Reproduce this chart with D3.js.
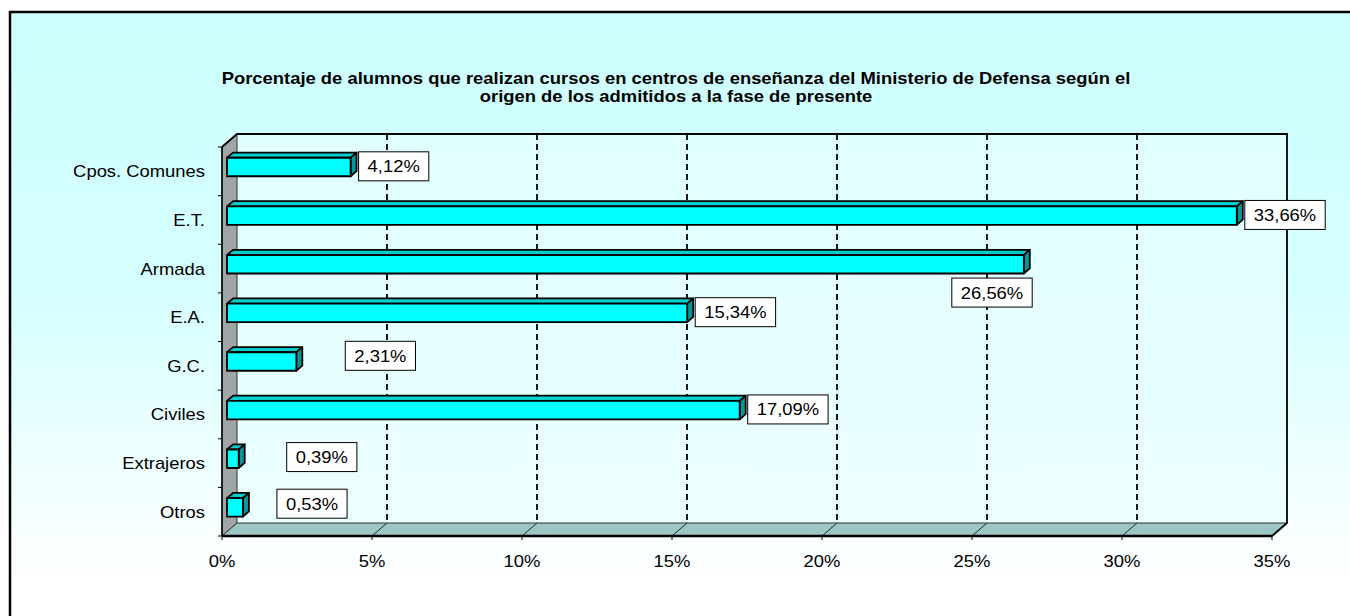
<!DOCTYPE html>
<html><head><meta charset="utf-8">
<script src="https://cdn.jsdelivr.net/npm/d3@7"></script>
<style>body{margin:0;background:#fff}svg{display:block}text{font-family:Arial,"Liberation Sans",sans-serif;fill:#000}</style>
</head><body>
<svg id="c" width="1350" height="616"></svg>
<script>
const titleLines = ["Porcentaje de alumnos que realizan cursos en centros de enseñanza del Ministerio de Defensa según el","origen de los admitidos a la fase de presente"];
const categories = ["Cpos. Comunes","E.T.","Armada","E.A.","G.C.","Civiles","Extrajeros","Otros"];
const values = [4.12,33.66,26.56,15.34,2.31,17.09,0.39,0.53];
const valueLabels = ["4,12%","33,66%","26,56%","15,34%","2,31%","17,09%","0,39%","0,53%"];
const xTicks = [0,5,10,15,20,25,30,35];
const xTickLabels = ["0%","5%","10%","15%","20%","25%","30%","35%"];
// label nudges (style/layout, not data)
const labelNudge = [[0,0],[0,0],[-80,29],[0,0],[41,-5],[0,0],[40,-1],[26,-3]];

const svg = d3.select("#c");
const SX = 1.15; // horizontal stretch of text
const L = 222, R = 1272, T = 147, B = 536, DX = 15, DY = -13;
const x = d3.scaleLinear().domain([0,35]).range([L,R]);
const y = d3.scaleBand().domain(categories).range([T,B]).paddingInner(0.62).paddingOuter(0.31);

const defs = svg.append("defs");
const g1 = defs.append("linearGradient").attr("id","bg").attr("x1",0).attr("y1",0).attr("x2",0).attr("y2",1);
g1.append("stop").attr("offset","0").attr("stop-color","#ccffff");
g1.append("stop").attr("offset","0.45").attr("stop-color","#d6ffff");
g1.append("stop").attr("offset","0.92").attr("stop-color","#ffffff");
const g2 = defs.append("linearGradient").attr("id","wall").attr("x1",0).attr("y1",0).attr("x2",0).attr("y2",1);
g2.append("stop").attr("offset","0").attr("stop-color","#e0ffff");
g2.append("stop").attr("offset","1").attr("stop-color","#ecffff");

svg.append("rect").attr("x",10).attr("y",12).attr("width",1360).attr("height",620)
  .attr("fill","url(#bg)").attr("stroke","#000").attr("stroke-width",2.5);

// title
titleLines.forEach((t,i)=>{
  svg.append("text").attr("transform",`translate(676,${84+i*18}) scale(${SX},1)`)
    .attr("text-anchor","middle").attr("font-weight","bold").attr("font-size",16).text(t);
});

const pt = (a)=>a.map(p=>p.join(",")).join(" ");
// back wall
svg.append("rect").attr("x",L+DX).attr("y",T+DY).attr("width",R-L).attr("height",B-T)
  .attr("fill","url(#wall)");
// left wall
svg.append("polygon").attr("points",pt([[L,T],[L+DX,T+DY],[L+DX,B+DY],[L,B]]))
  .attr("fill","#a0a6a6").attr("stroke","#333").attr("stroke-width",1);
// floor
svg.append("polygon").attr("points",pt([[L,B],[R,B],[R+DX,B+DY],[L+DX,B+DY]]))
  .attr("fill","#9cc6c3").attr("stroke","#333").attr("stroke-width",1);
// gridlines
xTicks.forEach((v,i)=>{
  const xv = x(v);
  if(i>0 && i<xTicks.length-1){
    svg.append("line").attr("x1",xv+DX).attr("x2",xv+DX).attr("y1",T+DY).attr("y2",B+DY)
      .attr("stroke","#000").attr("stroke-width",1.8).attr("stroke-dasharray","6,4");
  }
  if(i>0) svg.append("line").attr("x1",xv).attr("y1",B).attr("x2",xv+DX).attr("y2",B+DY)
      .attr("stroke","#222").attr("stroke-width",1);
});
// back wall edges
svg.append("polyline").attr("points",pt([[L,T],[L+DX,T+DY],[R+DX,T+DY],[R+DX,B+DY],[R,B]]))
  .attr("fill","none").attr("stroke","#000").attr("stroke-width",1.8);

// bars
const o1=[5,-4.3], o2=[11,-9.5];
const bars = svg.append("g");
categories.forEach((c,i)=>{
  const x0=x(0), x1=x(values[i]), y0=y(c), y1=y(c)+y.bandwidth();
  const gb = bars.append("g").attr("stroke","#000").attr("stroke-width",1.8).attr("stroke-linejoin","round");
  gb.append("polygon").attr("points",pt([[x0+o1[0],y0+o1[1]],[x1+o1[0],y0+o1[1]],[x1+o2[0],y0+o2[1]],[x0+o2[0],y0+o2[1]]])).attr("fill","#00cccc");
  gb.append("polygon").attr("points",pt([[x1+o1[0],y0+o1[1]],[x1+o2[0],y0+o2[1]],[x1+o2[0],y1+o2[1]],[x1+o1[0],y1+o1[1]]])).attr("fill","#009999");
  gb.append("rect").attr("x",x0+o1[0]).attr("y",y0+o1[1]).attr("width",x1-x0).attr("height",y1-y0).attr("fill","#00ffff");
});

// axes lines
svg.append("line").attr("x1",L).attr("x2",L).attr("y1",T).attr("y2",B).attr("stroke","#000").attr("stroke-width",1.5);
svg.append("line").attr("x1",L).attr("x2",R).attr("y1",B).attr("y2",B).attr("stroke","#000").attr("stroke-width",2.5);
// y ticks at band boundaries
const bounds = categories.map(c=>y(c)-y.step()*y.paddingInner()/2).concat([B]);
bounds.forEach(yy=>svg.append("line").attr("x1",L-4).attr("x2",L).attr("y1",yy).attr("y2",yy).attr("stroke","#000").attr("stroke-width",1));
// x ticks
xTicks.forEach((v,i)=>{
  svg.append("line").attr("x1",x(v)).attr("x2",x(v)).attr("y1",B).attr("y2",B+4).attr("stroke","#000").attr("stroke-width",1);
  svg.append("text").attr("transform",`translate(${x(v)},567) scale(${SX},1)`).attr("text-anchor","middle")
    .attr("font-size",16).text(xTickLabels[i]);
});
// category labels
categories.forEach((c,i)=>{
  svg.append("text").attr("transform",`translate(205,${y(c)+y.bandwidth()/2+6}) scale(${SX},1)`)
    .attr("text-anchor","end").attr("font-size",16).text(c);
});
// value labels
categories.forEach((c,i)=>{
  const gl = svg.append("g");
  const t = gl.append("text").attr("font-size",16).attr("text-anchor","middle").text(valueLabels[i]);
  const w = t.node().getComputedTextLength()*SX + 18;
  const h = 29;
  const cx = x(values[i]) + 13 + w/2 + labelNudge[i][0];
  const cy = y(c)+y.bandwidth()/2 - 5 + labelNudge[i][1];
  gl.insert("rect","text").attr("x",cx-w/2).attr("y",cy-h/2).attr("width",w).attr("height",h)
    .attr("fill","#fff").attr("stroke","#000").attr("stroke-width",1);
  t.attr("transform",`translate(${cx},${cy+6}) scale(${SX},1)`);
});
</script>
</body></html>
